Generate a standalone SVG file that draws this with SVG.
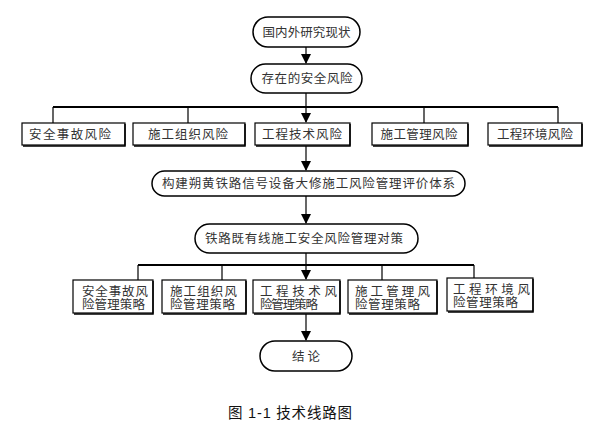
<svg xmlns="http://www.w3.org/2000/svg" width="599" height="434" viewBox="0 0 599 434">
<defs>
<marker id="ah" markerWidth="10" markerHeight="14" refX="9" refY="5" orient="auto" markerUnits="userSpaceOnUse" viewBox="0 0 10 10">
<path d="M0,0 L10,5 L0,10 Z" fill="#000"/>
</marker>
<style>
.pill{fill:#fff;stroke:#000;stroke-width:1.5}
.box{fill:#fff;stroke:#000;stroke-width:1.2}
.sh{fill:none;stroke:#000;stroke-width:1.5}
.ln{fill:none;stroke:#000;stroke-width:1.2}
.bar{fill:none;stroke:#000;stroke-width:2}
.t{font-family:"Liberation Sans","Noto Sans CJK SC",sans-serif;font-size:12.5px;fill:#333}
.tm{text-anchor:middle}
.cap{font-family:"Liberation Sans","Noto Sans CJK SC",sans-serif;font-size:14.5px;fill:#111;text-anchor:middle}
</style>
</defs>
<rect width="599" height="434" fill="#fff"/>

<g id="connectors">
<path class="ln" d="M306,47 V63" marker-end="url(#ah)"/>
<path class="ln" d="M306,93 V107"/>
<path class="bar" d="M53,107 H558"/>
<path class="ln" d="M53,107 V123 M188,107 V123 M424,107 V123 M558,107 V123"/>
<path class="ln" d="M306,107 V122" marker-end="url(#ah)"/>
<path class="ln" d="M306,146 V170" marker-end="url(#ah)"/>
<path class="ln" d="M306,196 V223" marker-end="url(#ah)"/>
<path class="ln" d="M306,253 V265"/>
<path class="bar" d="M138,265 H474"/>
<path class="ln" d="M138,265 V280 M222,265 V280 M382,265 V280 M474,265 V278"/>
<path class="ln" d="M306,265 V279" marker-end="url(#ah)"/>
<path class="ln" d="M306,314 V340" marker-end="url(#ah)"/>
</g>

<g id="n1">
<rect class="pill" x="253" y="17" width="107" height="30" rx="15"/>
<text class="t tm" x="306.5" y="36.5" textLength="88">国内外研究现状</text>
</g>
<g id="n2">
<rect class="pill" x="251" y="64" width="111" height="29" rx="14.5"/>
<text class="t tm" x="307" y="83" textLength="91">存在的安全风险</text>
</g>

<g id="r1">
<g id="b1a">
<rect class="box" x="22" y="123" width="103" height="22"/>
<path class="sh" d="M125,124 V146 H23"/>
<text class="t tm" x="70" y="138.5" textLength="82">安全事故风险</text>
</g>
<g id="b1b">
<rect class="box" x="133" y="123" width="112" height="22"/>
<path class="sh" d="M245,124 V146 H134"/>
<text class="t tm" x="188" y="138.5" textLength="80">施工组织风险</text>
</g>
<g id="b1c">
<rect class="box" x="255" y="123" width="95" height="22"/>
<path class="sh" d="M350,124 V146 H256"/>
<text class="t tm" x="302" y="138.5" textLength="80">工程技术风险</text>
</g>
<g id="b1d">
<rect class="box" x="372" y="123" width="96" height="22"/>
<path class="sh" d="M468,124 V146 H373"/>
<text class="t tm" x="419" y="138.5" textLength="77">施工管理风险</text>
</g>
<g id="b1e">
<rect class="box" x="488" y="123" width="94" height="22"/>
<path class="sh" d="M582,124 V146 H489"/>
<text class="t tm" x="535" y="138.5" textLength="76">工程环境风险</text>
</g>
</g>

<g id="n3">
<rect class="pill" x="152" y="171" width="313" height="25" rx="12.5"/>
<text class="t tm" x="308.5" y="188" textLength="293">构建朔黄铁路信号设备大修施工风险管理评价体系</text>
</g>
<g id="n4">
<rect class="pill" x="195" y="224" width="223" height="29" rx="14.5"/>
<text class="t tm" x="304" y="243" textLength="198">铁路既有线施工安全风险管理对策</text>
</g>

<g id="r2">
<g id="b2a">
<rect class="box" x="73" y="280" width="80" height="33"/>
<path class="sh" d="M153,281 V314 H74"/>
<text class="t" x="82" y="295.5" textLength="66">安全事故风</text>
<text class="t" x="82" y="309" textLength="63">险管理策略</text>
</g>
<g id="b2b">
<rect class="box" x="162" y="280" width="84" height="33"/>
<path class="sh" d="M246,281 V314 H163"/>
<text class="t" x="170" y="295.5" textLength="67">施工组织风</text>
<text class="t" x="170" y="309" textLength="65">险管理策略</text>
</g>
<g id="b2c">
<rect class="box" x="253" y="280" width="87" height="33"/>
<path class="sh" d="M340,281 V314 H254"/>
<text class="t" x="260" y="295.5" textLength="77">工程技术风</text>
<text class="t" x="260" y="309" textLength="58">险管理策略</text>
</g>
<g id="b2d">
<rect class="box" x="348" y="280" width="89" height="33"/>
<path class="sh" d="M437,281 V314 H349"/>
<text class="t" x="355" y="295.5" textLength="75">施工管理风</text>
<text class="t" x="355" y="309" textLength="65">险管理策略</text>
</g>
<g id="b2e">
<rect class="box" x="447" y="278" width="86" height="33"/>
<path class="sh" d="M533,279 V312 H448"/>
<text class="t" x="453" y="293.5" textLength="77">工程环境风</text>
<text class="t" x="453" y="307" textLength="65">险管理策略</text>
</g>
</g>

<g id="n5">
<rect class="pill" x="260" y="341" width="92" height="30" rx="15"/>
<text class="t tm" x="306" y="360.5" textLength="28">结论</text>
</g>

<text class="cap" x="290" y="417.5" textLength="124">图 1-1 技术线路图</text>
</svg>
